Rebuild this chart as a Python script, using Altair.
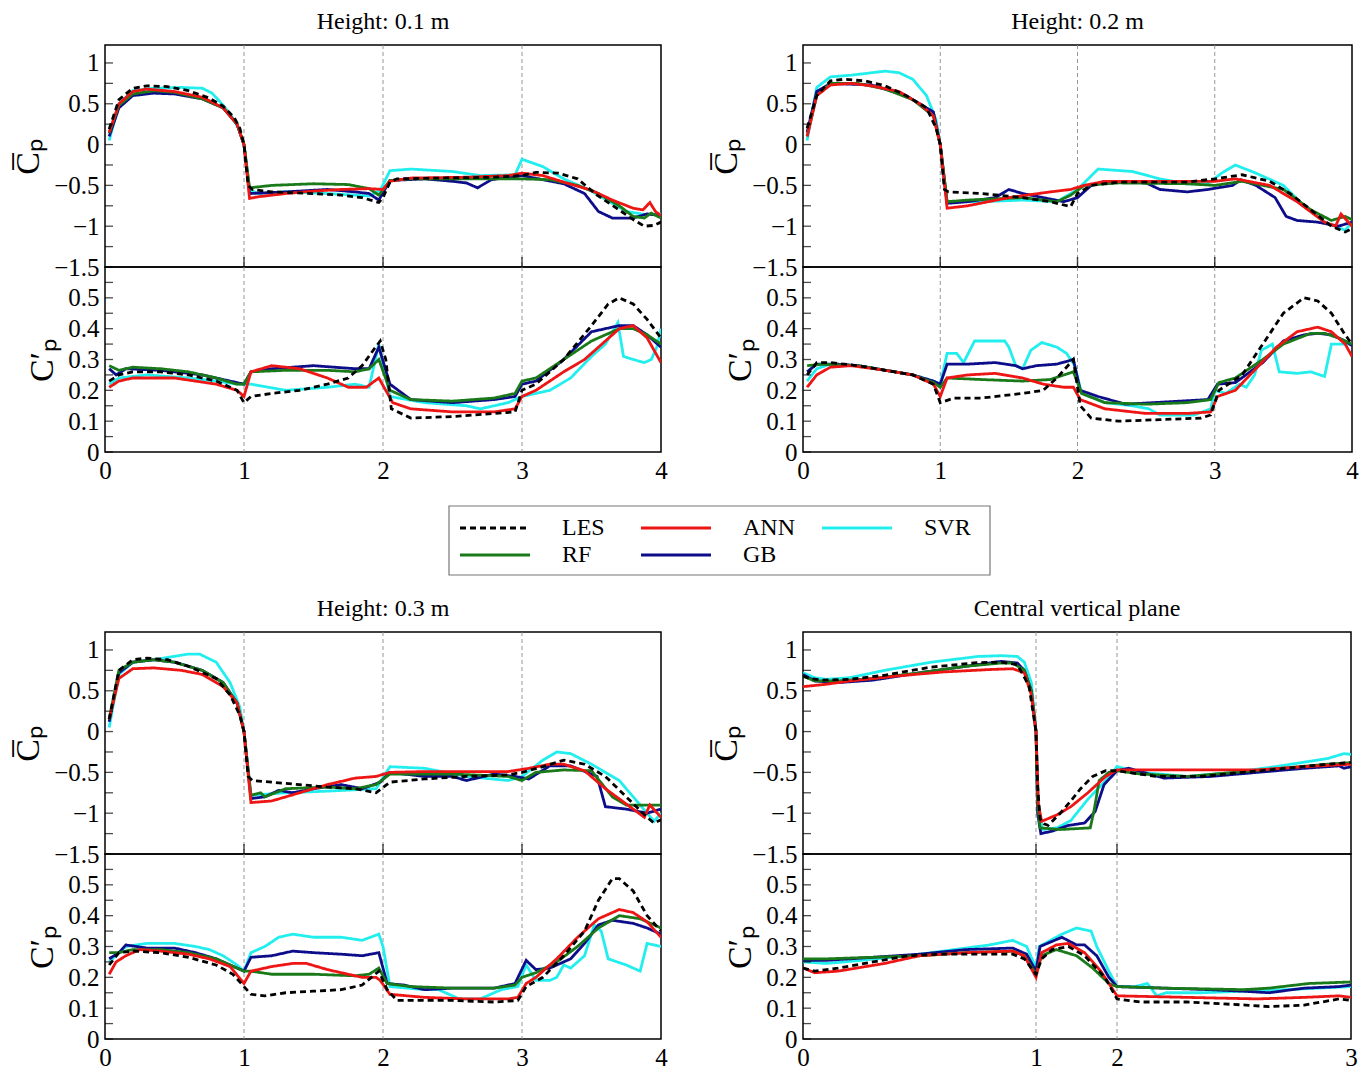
import altair as alt
import pandas as pd

SERIF = "Liberation Serif"
MODELS = ["LES", "ANN", "SVR", "RF", "GB"]
COLORS = ["#000000", "#ee1515", "#22eeee", "#1a7a1a", "#0d0d8a"]
DASHES = [[6, 4], [1, 0], [1, 0], [1, 0], [1, 0]]
DRAW_ORDER = ["SVR", "GB", "RF", "ANN", "LES"]

TITLES = ["Height: 0.1 m", "Height: 0.2 m", "Height: 0.3 m", "Central vertical plane"]
MEAN_TICKS = [-1.5, -1, -0.5, 0, 0.5, 1]
MEAN_MINOR = [-1.25, -0.75, -0.25, 0.25, 0.75]
FLUC_TICKS = [0, 0.1, 0.2, 0.3, 0.4, 0.5]
FLUC_MINOR = [0.05, 0.15, 0.25, 0.35, 0.45, 0.55]
X_TICKS_4 = [0, 1, 2, 3, 4]
X_TICKS_3 = [0, 1, 2, 3]
BOUNDS_4 = [1, 2, 3]
BOUNDS_3 = [1, 2]

# ---------------- Height 0.1 m ----------------
h1_mean_LES = [[0.03,0.19],[0.1,0.55],[0.2,0.69],[0.3,0.72],[0.45,0.71],[0.6,0.66],[0.75,0.57],[0.85,0.47],[0.93,0.33],[0.97,0.2],[1.0,0.0],[1.03,-0.5],[1.06,-0.55],[1.2,-0.58],[1.5,-0.6],[1.7,-0.62],[1.85,-0.65],[1.97,-0.71],[2.0,-0.65],[2.05,-0.46],[2.1,-0.42],[2.4,-0.41],[2.8,-0.4],[3.0,-0.38],[3.1,-0.34],[3.26,-0.35],[3.4,-0.42],[3.54,-0.62],[3.69,-0.79],[3.8,-0.92],[3.88,-1.0],[3.95,-0.99],[4.0,-0.95]]
h1_mean_SVR = [[0.03,0.05],[0.1,0.5],[0.2,0.66],[0.35,0.69],[0.55,0.7],[0.7,0.69],[0.77,0.63],[0.83,0.52],[0.9,0.38],[0.96,0.2],[1.0,0.0],[1.04,-0.55],[1.1,-0.6],[1.3,-0.58],[1.6,-0.6],[1.9,-0.63],[1.98,-0.56],[2.05,-0.32],[2.2,-0.3],[2.5,-0.33],[2.7,-0.38],[2.95,-0.37],[3.0,-0.18],[3.15,-0.27],[3.3,-0.42],[3.5,-0.57],[3.65,-0.72],[3.75,-0.82],[3.9,-0.86],[4.0,-0.85]]
h1_mean_ANN = [[0.03,0.15],[0.1,0.5],[0.2,0.65],[0.3,0.68],[0.5,0.65],[0.7,0.58],[0.85,0.45],[0.95,0.25],[1.0,0.0],[1.04,-0.66],[1.1,-0.64],[1.3,-0.6],[1.5,-0.57],[1.7,-0.55],[1.9,-0.54],[2.0,-0.55],[2.05,-0.45],[2.2,-0.41],[2.6,-0.4],[2.9,-0.38],[3.0,-0.35],[3.15,-0.38],[3.3,-0.46],[3.5,-0.56],[3.65,-0.68],[3.8,-0.78],[3.87,-0.8],[3.92,-0.71],[3.96,-0.82],[4.0,-0.87]]
h1_mean_RF = [[0.03,0.14],[0.1,0.48],[0.2,0.62],[0.35,0.66],[0.5,0.64],[0.7,0.56],[0.85,0.45],[0.95,0.25],[1.0,0.0],[1.04,-0.53],[1.2,-0.5],[1.5,-0.48],[1.75,-0.49],[1.9,-0.54],[1.97,-0.62],[2.05,-0.44],[2.2,-0.42],[2.6,-0.42],[3.0,-0.42],[3.2,-0.43],[3.4,-0.5],[3.55,-0.6],[3.7,-0.75],[3.8,-0.88],[3.88,-0.9],[3.93,-0.84],[4.0,-0.9]]
h1_mean_GB = [[0.03,0.1],[0.1,0.45],[0.2,0.6],[0.35,0.63],[0.5,0.62],[0.7,0.56],[0.85,0.45],[0.95,0.25],[1.0,0.0],[1.04,-0.6],[1.3,-0.58],[1.6,-0.55],[1.8,-0.58],[1.9,-0.6],[1.97,-0.68],[2.05,-0.44],[2.3,-0.42],[2.5,-0.45],[2.6,-0.47],[2.68,-0.53],[2.78,-0.43],[3.0,-0.38],[3.15,-0.43],[3.3,-0.48],[3.45,-0.6],[3.55,-0.82],[3.65,-0.9],[3.8,-0.9],[3.9,-0.85],[4.0,-0.87]]

h1_fluc_LES = [[0.03,0.23],[0.1,0.25],[0.2,0.26],[0.4,0.26],[0.6,0.25],[0.8,0.23],[0.95,0.2],[1.0,0.16],[1.05,0.18],[1.2,0.19],[1.4,0.2],[1.6,0.22],[1.75,0.24],[1.85,0.28],[1.93,0.33],[1.98,0.36],[2.02,0.3],[2.06,0.14],[2.2,0.11],[2.5,0.115],[2.8,0.125],[2.95,0.13],[3.0,0.2],[3.1,0.22],[3.3,0.3],[3.5,0.41],[3.62,0.48],[3.7,0.5],[3.8,0.48],[3.9,0.43],[4.0,0.37]]
h1_fluc_SVR = [[0.03,0.22],[0.1,0.24],[0.3,0.25],[0.6,0.24],[0.8,0.23],[0.95,0.22],[1.0,0.22],[1.05,0.22],[1.3,0.2],[1.6,0.21],[1.8,0.22],[1.9,0.21],[1.97,0.35],[2.05,0.18],[2.3,0.16],[2.6,0.15],[2.7,0.14],[2.9,0.16],[3.0,0.18],[3.2,0.2],[3.35,0.24],[3.5,0.31],[3.6,0.35],[3.69,0.42],[3.73,0.31],[3.8,0.3],[3.88,0.29],[3.93,0.3],[3.97,0.34],[4.0,0.4]]
h1_fluc_ANN = [[0.03,0.21],[0.1,0.23],[0.2,0.24],[0.5,0.24],[0.8,0.22],[0.95,0.2],[1.0,0.18],[1.05,0.26],[1.2,0.28],[1.4,0.27],[1.6,0.24],[1.75,0.21],[1.88,0.21],[1.97,0.24],[2.02,0.2],[2.07,0.16],[2.2,0.14],[2.5,0.13],[2.8,0.13],[2.95,0.14],[3.0,0.18],[3.1,0.2],[3.3,0.26],[3.45,0.3],[3.6,0.36],[3.7,0.4],[3.8,0.41],[3.9,0.37],[4.0,0.29]]
h1_fluc_RF = [[0.03,0.28],[0.1,0.265],[0.2,0.275],[0.4,0.27],[0.6,0.26],[0.8,0.24],[0.95,0.22],[1.0,0.22],[1.05,0.26],[1.3,0.265],[1.6,0.265],[1.8,0.26],[1.9,0.27],[1.97,0.3],[2.05,0.2],[2.2,0.17],[2.5,0.165],[2.8,0.175],[2.95,0.19],[3.0,0.23],[3.1,0.24],[3.3,0.3],[3.5,0.36],[3.7,0.4],[3.8,0.4],[3.9,0.38],[4.0,0.35]]
h1_fluc_GB = [[0.03,0.27],[0.08,0.25],[0.15,0.27],[0.4,0.265],[0.7,0.25],[0.9,0.23],[1.0,0.22],[1.05,0.26],[1.2,0.27],[1.5,0.28],[1.8,0.27],[1.9,0.27],[1.97,0.34],[2.05,0.22],[2.2,0.17],[2.5,0.16],[2.8,0.17],[2.95,0.18],[3.0,0.22],[3.1,0.23],[3.3,0.3],[3.5,0.39],[3.7,0.41],[3.8,0.41],[3.9,0.38],[4.0,0.34]]

# ---------------- Height 0.2 m ----------------
h2_mean_LES = [[0.03,0.2],[0.1,0.6],[0.2,0.78],[0.3,0.8],[0.45,0.78],[0.6,0.72],[0.75,0.6],[0.9,0.45],[0.97,0.2],[1.0,0.0],[1.03,-0.55],[1.06,-0.58],[1.3,-0.6],[1.6,-0.65],[1.8,-0.7],[1.95,-0.76],[2.0,-0.6],[2.1,-0.5],[2.3,-0.46],[2.8,-0.46],[3.0,-0.42],[3.2,-0.37],[3.4,-0.45],[3.55,-0.6],[3.7,-0.8],[3.85,-1.0],[3.95,-1.07],[4.0,-1.03]]
h2_mean_SVR = [[0.03,0.05],[0.1,0.7],[0.2,0.83],[0.35,0.85],[0.6,0.9],[0.7,0.88],[0.8,0.8],[0.9,0.6],[0.97,0.3],[1.0,0.0],[1.05,-0.7],[1.3,-0.7],[1.6,-0.68],[1.85,-0.7],[2.0,-0.55],[2.15,-0.3],[2.4,-0.33],[2.6,-0.42],[2.8,-0.48],[2.95,-0.48],[3.05,-0.35],[3.15,-0.25],[3.3,-0.35],[3.5,-0.5],[3.65,-0.75],[3.8,-0.95],[3.95,-1.05],[4.0,-0.95]]
h2_mean_ANN = [[0.03,0.1],[0.1,0.6],[0.2,0.73],[0.35,0.75],[0.5,0.72],[0.7,0.65],[0.85,0.5],[0.95,0.35],[1.0,0.0],[1.05,-0.78],[1.2,-0.75],[1.5,-0.65],[1.8,-0.58],[1.95,-0.55],[2.05,-0.5],[2.2,-0.45],[2.6,-0.45],[3.0,-0.45],[3.15,-0.42],[3.4,-0.5],[3.6,-0.7],[3.8,-0.95],[3.88,-1.0],[3.92,-0.85],[4.0,-1.0]]
h2_mean_RF = [[0.03,0.1],[0.1,0.6],[0.2,0.75],[0.4,0.75],[0.6,0.68],[0.8,0.55],[0.95,0.35],[1.0,0.0],[1.05,-0.7],[1.2,-0.68],[1.6,-0.65],[1.85,-0.7],[1.95,-0.62],[2.05,-0.5],[2.3,-0.47],[2.8,-0.48],[3.0,-0.5],[3.2,-0.45],[3.5,-0.55],[3.7,-0.8],[3.85,-0.93],[3.95,-0.88],[4.0,-0.92]]
h2_mean_GB = [[0.03,0.15],[0.1,0.65],[0.2,0.75],[0.5,0.73],[0.75,0.6],[0.95,0.4],[1.0,0.0],[1.05,-0.72],[1.2,-0.7],[1.4,-0.65],[1.5,-0.55],[1.6,-0.6],[1.75,-0.65],[1.9,-0.7],[2.0,-0.65],[2.1,-0.5],[2.2,-0.45],[2.5,-0.47],[2.6,-0.55],[2.8,-0.58],[2.95,-0.55],[3.13,-0.5],[3.19,-0.43],[3.3,-0.5],[3.44,-0.65],[3.52,-0.88],[3.6,-0.93],[3.75,-0.95],[3.9,-1.0],[4.0,-0.95]]

h2_fluc_LES = [[0.03,0.25],[0.1,0.29],[0.2,0.29],[0.4,0.28],[0.6,0.265],[0.8,0.25],[0.95,0.22],[1.0,0.16],[1.1,0.175],[1.3,0.175],[1.6,0.19],[1.75,0.2],[1.85,0.24],[1.97,0.3],[2.02,0.15],[2.1,0.11],[2.3,0.1],[2.6,0.105],[2.9,0.11],[2.97,0.12],[3.03,0.2],[3.2,0.25],[3.35,0.35],[3.5,0.45],[3.65,0.5],[3.75,0.49],[3.85,0.45],[3.95,0.38],[4.0,0.35]]
h2_fluc_SVR = [[0.03,0.23],[0.1,0.27],[0.2,0.285],[0.4,0.28],[0.6,0.265],[0.8,0.25],[0.95,0.23],[1.0,0.22],[1.05,0.32],[1.12,0.32],[1.17,0.29],[1.25,0.36],[1.47,0.36],[1.5,0.34],[1.55,0.28],[1.6,0.27],[1.66,0.33],[1.74,0.355],[1.85,0.34],[1.92,0.32],[1.98,0.28],[2.03,0.19],[2.2,0.16],[2.4,0.15],[2.52,0.14],[2.6,0.12],[2.85,0.12],[2.97,0.14],[3.0,0.2],[3.08,0.19],[3.18,0.22],[3.23,0.21],[3.29,0.25],[3.34,0.33],[3.42,0.35],[3.47,0.26],[3.6,0.255],[3.7,0.26],[3.8,0.245],[3.85,0.35],[4.0,0.35]]
h2_fluc_ANN = [[0.03,0.21],[0.1,0.25],[0.2,0.275],[0.35,0.28],[0.6,0.265],[0.8,0.25],[0.95,0.22],[1.0,0.18],[1.05,0.24],[1.2,0.25],[1.4,0.255],[1.6,0.24],[1.75,0.22],[1.9,0.21],[1.97,0.21],[2.02,0.17],[2.2,0.14],[2.5,0.125],[2.8,0.125],[2.97,0.13],[3.02,0.18],[3.15,0.2],[3.3,0.27],[3.45,0.34],[3.6,0.39],[3.75,0.405],[3.85,0.39],[3.95,0.35],[4.0,0.31]]
h2_fluc_RF = [[0.03,0.28],[0.15,0.285],[0.4,0.28],[0.6,0.265],[0.8,0.25],[0.95,0.225],[1.0,0.21],[1.05,0.24],[1.3,0.235],[1.6,0.23],[1.8,0.235],[1.97,0.26],[2.03,0.19],[2.2,0.16],[2.5,0.155],[2.8,0.16],[2.97,0.17],[3.03,0.225],[3.15,0.24],[3.35,0.3],[3.5,0.35],[3.7,0.385],[3.8,0.385],[3.9,0.37],[4.0,0.35]]
h2_fluc_GB = [[0.03,0.26],[0.1,0.285],[0.25,0.285],[0.4,0.28],[0.6,0.265],[0.8,0.25],[0.95,0.23],[1.0,0.22],[1.05,0.285],[1.2,0.285],[1.4,0.29],[1.55,0.28],[1.6,0.27],[1.7,0.28],[1.85,0.285],[1.97,0.3],[2.02,0.2],[2.15,0.18],[2.35,0.155],[2.55,0.16],[2.75,0.165],[2.95,0.17],[3.02,0.22],[3.15,0.225],[3.35,0.29],[3.5,0.36],[3.65,0.38],[3.75,0.385],[3.85,0.38],[3.95,0.36],[4.0,0.345]]

# ---------------- Height 0.3 m ----------------
h3_mean_LES = [[0.03,0.15],[0.1,0.75],[0.2,0.88],[0.3,0.9],[0.45,0.88],[0.6,0.8],[0.8,0.65],[0.9,0.45],[0.97,0.2],[1.0,0.0],[1.03,-0.55],[1.06,-0.6],[1.2,-0.62],[1.4,-0.65],[1.6,-0.68],[1.8,-0.7],[1.95,-0.75],[2.05,-0.62],[2.3,-0.58],[2.6,-0.55],[2.9,-0.53],[3.0,-0.5],[3.15,-0.43],[3.3,-0.35],[3.45,-0.4],[3.6,-0.55],[3.75,-0.8],[3.9,-1.05],[3.95,-1.12],[4.0,-1.08]]
h3_mean_SVR = [[0.03,0.05],[0.1,0.7],[0.2,0.85],[0.35,0.88],[0.6,0.95],[0.68,0.95],[0.8,0.85],[0.9,0.6],[0.97,0.3],[1.0,0.0],[1.05,-0.78],[1.3,-0.75],[1.6,-0.73],[1.95,-0.7],[2.05,-0.43],[2.3,-0.45],[2.6,-0.55],[2.9,-0.6],[3.0,-0.55],[3.15,-0.35],[3.25,-0.25],[3.35,-0.27],[3.5,-0.4],[3.7,-0.6],[3.85,-0.9],[3.95,-1.1],[4.0,-1.0]]
h3_mean_ANN = [[0.03,0.15],[0.1,0.65],[0.2,0.77],[0.35,0.78],[0.55,0.75],[0.7,0.7],[0.85,0.55],[0.95,0.35],[1.0,0.0],[1.05,-0.87],[1.2,-0.85],[1.4,-0.75],[1.6,-0.65],[1.8,-0.57],[1.95,-0.55],[2.05,-0.5],[2.3,-0.49],[2.9,-0.49],[3.05,-0.45],[3.2,-0.4],[3.3,-0.4],[3.45,-0.48],[3.6,-0.7],[3.8,-0.95],[3.88,-1.05],[3.92,-0.9],[4.0,-1.05]]
h3_mean_RF = [[0.03,0.15],[0.1,0.75],[0.2,0.85],[0.35,0.88],[0.5,0.85],[0.7,0.75],[0.85,0.6],[0.95,0.35],[1.0,0.0],[1.05,-0.78],[1.12,-0.75],[1.15,-0.8],[1.3,-0.7],[1.6,-0.68],[1.8,-0.7],[1.95,-0.65],[2.05,-0.52],[2.5,-0.52],[2.9,-0.55],[3.0,-0.6],[3.1,-0.5],[3.3,-0.47],[3.5,-0.48],[3.65,-0.8],[3.75,-0.9],[3.9,-0.9],[4.0,-0.9]]
h3_mean_GB = [[0.03,0.12],[0.1,0.72],[0.2,0.85],[0.35,0.88],[0.5,0.85],[0.7,0.75],[0.85,0.6],[0.95,0.35],[1.0,0.0],[1.05,-0.82],[1.15,-0.8],[1.25,-0.72],[1.35,-0.75],[1.5,-0.7],[1.7,-0.65],[1.85,-0.7],[1.98,-0.62],[2.05,-0.5],[2.3,-0.55],[2.5,-0.55],[2.6,-0.6],[2.8,-0.52],[2.95,-0.55],[3.05,-0.58],[3.2,-0.42],[3.35,-0.42],[3.54,-0.55],[3.6,-0.92],[3.75,-0.95],[3.9,-1.0],[4.0,-0.95]]

h3_fluc_LES = [[0.03,0.24],[0.1,0.28],[0.2,0.285],[0.4,0.28],[0.6,0.265],[0.8,0.24],[0.92,0.21],[1.0,0.17],[1.05,0.145],[1.15,0.14],[1.3,0.15],[1.5,0.155],[1.7,0.16],[1.85,0.175],[1.97,0.22],[2.03,0.16],[2.1,0.125],[2.5,0.125],[2.8,0.12],[2.97,0.125],[3.03,0.17],[3.15,0.2],[3.3,0.27],[3.45,0.35],[3.55,0.45],[3.65,0.52],[3.7,0.52],[3.8,0.48],[3.9,0.4],[4.0,0.35]]
h3_fluc_SVR = [[0.03,0.25],[0.15,0.3],[0.3,0.31],[0.5,0.31],[0.65,0.3],[0.75,0.29],[0.85,0.27],[0.95,0.24],[1.0,0.22],[1.05,0.28],[1.15,0.3],[1.25,0.33],[1.35,0.34],[1.5,0.33],[1.7,0.33],[1.85,0.32],[1.97,0.34],[2.0,0.3],[2.05,0.17],[2.3,0.16],[2.4,0.16],[2.55,0.13],[2.7,0.13],[2.85,0.16],[2.97,0.17],[3.03,0.24],[3.1,0.19],[3.2,0.19],[3.25,0.2],[3.3,0.24],[3.35,0.23],[3.45,0.27],[3.52,0.37],[3.57,0.35],[3.62,0.26],[3.75,0.24],[3.85,0.22],[3.9,0.31],[4.0,0.3]]
h3_fluc_ANN = [[0.03,0.21],[0.08,0.25],[0.15,0.27],[0.25,0.29],[0.4,0.285],[0.6,0.275],[0.75,0.26],[0.9,0.235],[1.0,0.18],[1.05,0.22],[1.2,0.235],[1.35,0.245],[1.45,0.245],[1.6,0.225],[1.85,0.2],[1.95,0.2],[1.98,0.19],[2.05,0.145],[2.3,0.135],[2.6,0.13],[2.9,0.13],[2.97,0.135],[3.03,0.18],[3.1,0.2],[3.25,0.26],[3.4,0.33],[3.55,0.39],[3.7,0.42],[3.8,0.41],[3.9,0.38],[4.0,0.33]]
h3_fluc_RF = [[0.03,0.28],[0.1,0.28],[0.2,0.29],[0.4,0.29],[0.6,0.28],[0.8,0.26],[0.95,0.23],[1.0,0.22],[1.05,0.22],[1.2,0.21],[1.5,0.21],[1.8,0.205],[1.9,0.21],[1.97,0.23],[2.03,0.18],[2.2,0.17],[2.5,0.165],[2.8,0.165],[2.95,0.175],[3.0,0.2],[3.1,0.215],[3.25,0.25],[3.4,0.3],[3.55,0.36],[3.7,0.4],[3.85,0.39],[4.0,0.36]]
h3_fluc_GB = [[0.03,0.26],[0.1,0.28],[0.15,0.305],[0.3,0.295],[0.5,0.295],[0.65,0.28],[0.8,0.26],[0.95,0.23],[1.0,0.22],[1.05,0.265],[1.2,0.27],[1.35,0.285],[1.5,0.28],[1.7,0.275],[1.85,0.27],[1.97,0.28],[2.03,0.18],[2.15,0.175],[2.3,0.16],[2.5,0.165],[2.8,0.165],[2.95,0.18],[3.03,0.255],[3.1,0.225],[3.2,0.23],[3.35,0.26],[3.45,0.31],[3.55,0.37],[3.65,0.385],[3.8,0.375],[3.9,0.36],[4.0,0.34]]

# ---------------- Central vertical plane ----------------
cv_mean_LES = [[0.0,0.68],[0.03,0.65],[0.08,0.63],[0.2,0.64],[0.35,0.69],[0.55,0.79],[0.75,0.845],[0.85,0.85],[0.92,0.82],[0.97,0.56],[1.0,0.0],[1.02,-0.67],[1.05,-1.07],[1.1,-1.13],[1.15,-1.15],[1.3,-1.0],[1.43,-0.85],[1.55,-0.7],[1.7,-0.55],[1.86,-0.48],[2.0,-0.48],[2.17,-0.55],[2.36,-0.55],[2.54,-0.5],[2.72,-0.45],[2.9,-0.4],[3.0,-0.38]]
cv_mean_SVR = [[0.0,0.72],[0.05,0.66],[0.1,0.64],[0.2,0.66],[0.35,0.75],[0.55,0.85],[0.75,0.92],[0.85,0.93],[0.92,0.92],[0.95,0.85],[0.98,0.6],[1.0,0.0],[1.03,-0.9],[1.08,-1.2],[1.26,-1.18],[1.43,-1.09],[1.64,-0.83],[1.86,-0.6],[2.0,-0.43],[2.1,-0.5],[2.3,-0.55],[2.5,-0.5],[2.7,-0.42],[2.9,-0.33],[2.97,-0.27],[3.0,-0.28]]
cv_mean_ANN = [[0.0,0.55],[0.1,0.58],[0.2,0.62],[0.4,0.68],[0.6,0.73],[0.8,0.76],[0.9,0.77],[0.95,0.72],[0.98,0.45],[1.0,0.0],[1.03,-0.9],[1.07,-1.1],[1.26,-1.02],[1.43,-0.92],[1.64,-0.75],[1.86,-0.55],[2.0,-0.47],[2.3,-0.47],[2.6,-0.47],[2.8,-0.43],[3.0,-0.4]]
cv_mean_RF = [[0.0,0.68],[0.05,0.62],[0.15,0.62],[0.3,0.65],[0.5,0.72],[0.7,0.8],[0.85,0.84],[0.9,0.84],[0.95,0.75],[0.98,0.5],[1.0,0.0],[1.02,-0.9],[1.05,-1.18],[1.3,-1.2],[1.67,-1.18],[1.72,-0.95],[1.78,-0.6],[1.9,-0.5],[2.0,-0.48],[2.1,-0.52],[2.3,-0.55],[2.5,-0.5],[2.7,-0.45],[2.9,-0.4],[3.0,-0.38]]
cv_mean_GB = [[0.0,0.7],[0.05,0.62],[0.15,0.6],[0.3,0.63],[0.5,0.72],[0.7,0.8],[0.85,0.86],[0.92,0.84],[0.95,0.75],[0.98,0.5],[1.0,0.0],[1.02,-1.0],[1.06,-1.25],[1.2,-1.22],[1.4,-1.15],[1.6,-1.12],[1.73,-0.98],[1.84,-0.65],[2.0,-0.48],[2.05,-0.45],[2.2,-0.57],[2.4,-0.55],[2.6,-0.5],[2.8,-0.45],[2.95,-0.42],[2.97,-0.45],[3.0,-0.43]]

cv_fluc_LES = [[0.0,0.23],[0.05,0.22],[0.15,0.23],[0.3,0.25],[0.45,0.27],[0.6,0.275],[0.8,0.275],[0.9,0.275],[0.95,0.26],[1.0,0.21],[1.07,0.26],[1.2,0.29],[1.4,0.3],[1.6,0.27],[1.85,0.2],[2.0,0.13],[2.1,0.12],[2.3,0.12],[2.55,0.11],[2.65,0.105],[2.8,0.11],[2.95,0.13],[3.0,0.125]]
cv_fluc_SVR = [[0.0,0.25],[0.1,0.245],[0.25,0.255],[0.45,0.27],[0.65,0.29],[0.8,0.305],[0.9,0.32],[0.96,0.3],[1.0,0.23],[1.04,0.3],[1.32,0.34],[1.5,0.36],[1.68,0.35],[1.75,0.3],[1.9,0.22],[2.0,0.17],[2.08,0.17],[2.13,0.18],[2.17,0.14],[2.21,0.15],[2.36,0.15],[2.54,0.155],[2.72,0.16],[3.0,0.17]]
cv_fluc_ANN = [[0.0,0.23],[0.05,0.215],[0.15,0.22],[0.35,0.245],[0.5,0.27],[0.7,0.28],[0.9,0.285],[0.95,0.27],[1.0,0.2],[1.07,0.28],[1.25,0.305],[1.4,0.31],[1.6,0.28],[1.8,0.22],[2.0,0.14],[2.3,0.135],[2.6,0.13],[2.8,0.135],[2.95,0.14],[3.0,0.135]]
cv_fluc_RF = [[0.0,0.26],[0.1,0.26],[0.3,0.265],[0.5,0.27],[0.7,0.28],[0.9,0.285],[0.95,0.27],[1.0,0.21],[1.07,0.27],[1.25,0.29],[1.5,0.27],[1.7,0.23],[1.9,0.18],[2.0,0.17],[2.2,0.165],[2.54,0.16],[2.65,0.165],[2.82,0.18],[3.0,0.185]]
cv_fluc_GB = [[0.0,0.255],[0.1,0.255],[0.3,0.265],[0.5,0.275],[0.7,0.29],[0.9,0.295],[0.96,0.275],[1.0,0.22],[1.05,0.3],[1.32,0.33],[1.5,0.305],[1.6,0.305],[1.75,0.27],[1.9,0.2],[2.0,0.17],[2.2,0.165],[2.4,0.16],[2.54,0.155],[2.65,0.15],[2.8,0.165],[2.95,0.17],[3.0,0.175]]

PANELS = [
    (TITLES[0], {"LES": h1_mean_LES, "SVR": h1_mean_SVR, "ANN": h1_mean_ANN, "RF": h1_mean_RF, "GB": h1_mean_GB},
     {"LES": h1_fluc_LES, "SVR": h1_fluc_SVR, "ANN": h1_fluc_ANN, "RF": h1_fluc_RF, "GB": h1_fluc_GB}),
    (TITLES[1], {"LES": h2_mean_LES, "SVR": h2_mean_SVR, "ANN": h2_mean_ANN, "RF": h2_mean_RF, "GB": h2_mean_GB},
     {"LES": h2_fluc_LES, "SVR": h2_fluc_SVR, "ANN": h2_fluc_ANN, "RF": h2_fluc_RF, "GB": h2_fluc_GB}),
    (TITLES[2], {"LES": h3_mean_LES, "SVR": h3_mean_SVR, "ANN": h3_mean_ANN, "RF": h3_mean_RF, "GB": h3_mean_GB},
     {"LES": h3_fluc_LES, "SVR": h3_fluc_SVR, "ANN": h3_fluc_ANN, "RF": h3_fluc_RF, "GB": h3_fluc_GB}),
    (TITLES[3], {"LES": cv_mean_LES, "SVR": cv_mean_SVR, "ANN": cv_mean_ANN, "RF": cv_mean_RF, "GB": cv_mean_GB},
     {"LES": cv_fluc_LES, "SVR": cv_fluc_SVR, "ANN": cv_fluc_ANN, "RF": cv_fluc_RF, "GB": cv_fluc_GB}),
]

UPPER_H = 222
LOWER_H = 185

color_scale = alt.Scale(domain=MODELS, range=COLORS)
dash_scale = alt.Scale(domain=MODELS, range=DASHES)


def series_df(series):
    rows = []
    for m in MODELS:
        for i, (x, y) in enumerate(series[m]):
            rows.append({"x": x, "y": y, "model": m, "i": i})
    return pd.DataFrame(rows)


def subplot(series, width, height, xscale, yscale, yaxis, xaxis, bounds, minor_ticks, major_ticks, top, title=None):
    df = series_df(series)
    X = alt.X("x:Q", scale=xscale, axis=xaxis)
    Y = alt.Y("y:Q", scale=yscale, axis=yaxis)
    layers = []
    layers.append(
        alt.Chart(pd.DataFrame({"x": bounds})).mark_rule(
            color="#8a8a8a", strokeDash=[4, 3], strokeWidth=0.9
        ).encode(x=X)
    )
    for m in DRAW_ORDER:
        layers.append(
            alt.Chart(df[df.model == m]).mark_line(strokeWidth=2.8, clip=True).encode(
                x=X, y=Y, order="i:Q",
                color=alt.Color("model:N", scale=color_scale, legend=None),
                strokeDash=alt.StrokeDash("model:N", scale=dash_scale, legend=None),
            )
        )
    layers.append(
        alt.Chart(pd.DataFrame({"y": major_ticks + minor_ticks})).mark_tick(
            orient="horizontal", size=8, thickness=1.3, color="black"
        ).encode(y=Y, x=alt.value(4))
    )
    if top:
        layers.append(
            alt.Chart(pd.DataFrame({"x": bounds})).mark_tick(
                orient="vertical", size=10, thickness=1.5, color="black"
            ).encode(x=X, y=alt.value(height - 5))
        )
    ch = alt.layer(*layers).properties(width=width, height=height)
    if title:
        ch = ch.properties(title=alt.TitleParams(
            title, font=SERIF, fontSize=24, fontWeight="normal", color="black",
            anchor="middle", frame="group", offset=11))
    return ch


def panel(idx, width):
    title, mean, fluc = PANELS[idx]
    if idx == 3:
        xs = alt.Scale(domain=[0, 1, 2, 3],
                       range=[0, round(236 * width / 554), round(317 * width / 554), width],
                       nice=False, zero=False)
        xvals = X_TICKS_3
        bounds = BOUNDS_3
    else:
        xs = alt.Scale(domain=[0, 4], nice=False, zero=False)
        xvals = X_TICKS_4
        bounds = BOUNDS_4
    common = dict(ticks=False, domain=False, grid=False, labelFont=SERIF, labelFontSize=25,
                  labelColor="black", labelFlush=False, labelOverlap=False, format="~g")
    ymean_axis = alt.Axis(values=MEAN_TICKS, title="C\u0305\u209a", labelPadding=6,
                          titleFont=SERIF, titleFontSize=34, titleFontWeight="normal",
                          titleColor="black", titlePadding=8, **common)
    yfluc_axis = alt.Axis(values=FLUC_TICKS, title="C\u2032\u209a", labelPadding=6,
                          titleFont=SERIF, titleFontSize=34, titleFontWeight="normal",
                          titleColor="black", titlePadding=8, **common)
    xaxis = alt.Axis(values=xvals, title=None, labelPadding=6, **common)
    up = subplot(mean, width, UPPER_H, xs,
                 alt.Scale(domain=[-1.5, 1.22], nice=False, zero=False),
                 ymean_axis, None, bounds, MEAN_MINOR, MEAN_TICKS, True, title)
    lo = subplot(fluc, width, LOWER_H, xs,
                 alt.Scale(domain=[0, 0.6], nice=False, zero=False),
                 yfluc_axis, xaxis, bounds, FLUC_MINOR, FLUC_TICKS, False)
    return alt.vconcat(up, lo, spacing=0, bounds="flush")


# ---------------- legend ----------------
LEG_NAMES = ["LES", "ANN", "SVR", "RF", "GB"]
LEG_COL = [0, 1, 2, 0, 1]
LEG_ROW = [0, 0, 0, 1, 1]
leg_df = pd.DataFrame({"model": LEG_NAMES, "c": LEG_COL, "r": LEG_ROW})
leg_df["c2"] = leg_df["c"] + 70 / 181
leg_df["c3"] = leg_df["c"] + 102 / 181
LX = alt.Scale(domain=[0, 1], range=[355, 536])
LY = alt.Scale(domain=[0, 1], range=[25, 52])

box = alt.Chart(pd.DataFrame({"k": [0]})).mark_rect(
    fill="white", stroke="#777777", strokeWidth=1.2
).encode(x=alt.value(344), x2=alt.value(885), y=alt.value(3), y2=alt.value(72))
leg_lines = alt.Chart(leg_df).mark_rule(strokeWidth=2.8).encode(
    x=alt.X("c:Q", scale=LX, axis=None), x2="c2:Q",
    y=alt.Y("r:Q", scale=LY, axis=None),
    color=alt.Color("model:N", scale=color_scale, legend=None),
    strokeDash=alt.StrokeDash("model:N", scale=dash_scale, legend=None),
)
leg_text = alt.Chart(leg_df).mark_text(
    align="left", baseline="middle", font=SERIF, fontSize=24, color="black"
).encode(
    x=alt.X("c3:Q", scale=LX, axis=None),
    y=alt.Y("r:Q", scale=LY, axis=None),
    text="model:N",
)
legend = alt.layer(box, leg_lines, leg_text).properties(
    width=1000, height=72, view=alt.ViewBackground(stroke="transparent")
)

row1 = alt.hconcat(panel(0, 556), panel(1, 549), spacing=40)
row2 = alt.hconcat(panel(2, 556), panel(3, 548), spacing=40)

chart = alt.vconcat(row1, legend, row2, spacing=18).properties(
    padding={"left": 2, "right": 0, "top": 0, "bottom": 0}
).configure_view(stroke="black", strokeWidth=1.5)

chart.save("out.html", embed_options={"renderer": "svg", "actions": False})
